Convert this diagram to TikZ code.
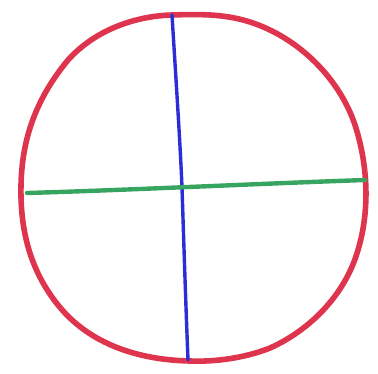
\documentclass[tikz,border=0pt]{standalone}
\definecolor{penred}{RGB}{222,52,78}
\definecolor{penblue}{RGB}{45,45,215}
\definecolor{pengreen}{RGB}{55,165,95}
\begin{document}
\begin{tikzpicture}[x=1pt,y=1pt,
  redline/.style={draw=penred, line width=5.6pt, line cap=round, line join=round},
  blueline/.style={draw=penblue, line width=3.4pt, line cap=round},
  greenline/.style={draw=pengreen, line width=4.4pt, line cap=round}]
\useasboundingbox (0,-373) rectangle (378,0);
\draw[redline] (172,-15) .. controls (200,-14) and (225,-14) .. (250,-22)
  .. controls (300,-38) and (340,-80) .. (355,-125)
  .. controls (368,-165) and (370,-210) .. (358,-250)
  .. controls (345,-295) and (310,-330) .. (270,-348)
  .. controls (245,-358) and (215,-362) .. (190,-361)
  .. controls (140,-360) and (90,-345) .. (58,-305)
  .. controls (30,-270) and (20,-230) .. (21,-185)
  .. controls (22,-140) and (35,-100) .. (68,-60)
  .. controls (95,-30) and (135,-16) .. (172,-15) -- cycle;
\coordinate (bt) at (172,-15);
\coordinate (bm) at (182,-187);
\coordinate (bb) at (188,-360);
\draw[blueline] (bt) .. controls (176,-80) and (180,-140) .. (bm) .. controls (184,-250) and (186,-310) .. (bb);
\coordinate (gl) at (27,-193);
\coordinate (gr) at (365,-180);
\draw[greenline] (gl) .. controls (130,-190) and (250,-184) .. (gr);
\end{tikzpicture}
\end{document}
